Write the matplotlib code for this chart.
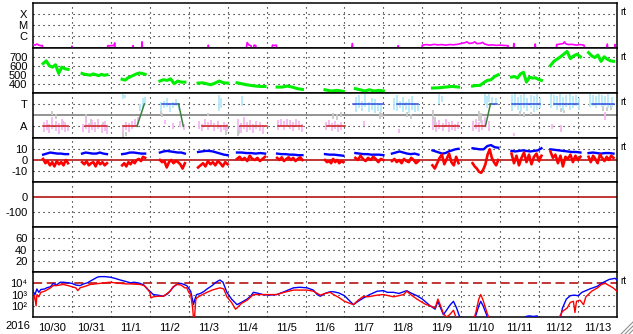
import numpy as np
import matplotlib
matplotlib.use('Agg')
import matplotlib.pyplot as plt
from matplotlib.lines import Line2D

plt.rcParams['font.family'] = ['Liberation Sans', 'DejaVu Sans']

# x axis: days since 2016-10-30 00:00
day_labels = ['10/30', '10/31', '11/1', '11/2', '11/3', '11/4', '11/5', '11/6',
              '11/7', '11/8', '11/9', '11/10', '11/11', '11/12', '11/13']

# data coverage segments (days)
seg_start = [0.26, 1.26, 2.29, 3.26, 4.24, 5.24, 6.27, 7.50, 8.28, 9.22, 10.26, 11.29, 12.29, 13.29, 14.27]
seg_end = [0.90, 1.90, 2.88, 3.90, 5.00, 5.96, 6.92, 7.97, 9.00, 9.90, 10.93, 11.95, 13.06, 14.06, 14.91]

# panel 1: x-ray flux, log10 W/m2
xray_t = [0.0, 0.05, 0.1, 0.15, 0.2, 0.24, 0.26, 0.98, 1.0, 1.02, 1.9, 1.92, 1.97, 2.02, 2.07, 2.1, 2.12,
          2.55, 2.57, 2.59, 2.78, 2.8, 2.82, 4.47, 4.5, 4.53, 5.46, 5.5, 5.55, 5.6, 5.63, 5.68, 5.72, 5.76,
          6.12, 6.15, 6.2, 6.25, 6.28, 8.17, 8.2, 8.23, 9.36, 9.38, 9.4, 9.98,
          10.0, 10.1, 10.2, 10.3, 10.4, 10.5, 10.6, 10.7, 10.8, 10.9, 11.0, 11.1, 11.15, 11.2, 11.3, 11.35,
          11.4, 11.5, 11.55, 11.6, 11.7, 11.8, 11.9, 12.0, 12.1, 12.2, 12.25, 12.33, 12.35, 12.37,
          12.88, 12.9, 12.92, 13.43, 13.45, 13.55, 13.62, 13.65, 13.68, 13.75, 13.85, 13.95, 14.05, 14.15,
          14.2, 14.7, 14.75, 14.78, 14.93, 14.95, 14.97, 15.0]
xray_v = [-6.8, -6.85, -6.75, -6.85, -6.9, -6.88, -7.6, -7.6, -6.95, -7.6, -7.6, -6.9, -6.92, -6.88, -6.9, -6.65, -7.6,
          -7.6, -6.9, -7.6, -7.6, -6.55, -7.6, -7.6, -6.85, -7.6, -7.6, -6.62, -6.85, -6.9, -7.6, -6.85, -6.88, -7.6,
          -7.6, -6.85, -6.88, -6.85, -7.6, -7.6, -6.7, -7.6, -7.6, -6.9, -7.6, -7.6,
          -6.85, -6.8, -6.85, -6.78, -6.83, -6.8, -6.85, -6.8, -6.82, -6.78, -6.7, -6.62, -6.55, -6.7, -6.65, -6.55,
          -6.72, -6.68, -6.6, -6.75, -6.85, -6.83, -6.87, -6.85, -6.88, -6.9, -7.6, -7.6, -6.7, -7.6,
          -7.6, -6.75, -7.6, -7.6, -6.8, -6.75, -6.7, -6.55, -6.72, -6.8, -6.78, -6.85, -6.8, -6.85,
          -7.6, -7.6, -6.75, -7.6, -7.6, -6.8, -7.6, -7.6]

# panel 2: solar wind speed (km/s), one list per segment (None = no data)
speed = [
    [625, 655, 600, 585, 612, 515, 585, 567, 560],
    [515, 505, 500, 495, 510, 500, 490, 505, 495, 500],
    [450, 440, 465, 480, 495, 510, 520, 515, 505],
    [430, 445, 437, 455, 400, 430, 418, 418],
    [407, 411, 400, 389, 407, 430, 411, 407],
    [411, 400, 389, 381, 374, 370, 370],
    [363, 363, 374, 363, 345, 337],
    [333, 319, 326, 315],
    [345, 333, 319, 333, 319, 326, 319],
    None,
    [352, 355, 363, 370, 363],
    [374, 381, 381, 411, 437, 444, 480, 500],
    [474, 481, 463, 510, 527, 418, 474, 463, 466, 448, 437],
    [601, 649, 674, 700, 729, 760, 680, 711, 729, 700],
    [747, 711, 692, 720, 649, 700, 674, 656, 650],
]

# panel 3: IMF sector (T = +1, A = -1), vertical point clouds (t, lo, hi)
away_bars = [
    (0.28, -1.5, -0.6), (0.35, -1.3, -0.4), (0.42, -1.6, -0.8), (0.5, -1.2, -0.2), (0.58, -1.4, -0.5),
    (0.66, -1.7, -0.7), (0.74, -1.3, -0.3), (0.82, -1.5, -0.6), (0.89, -1.4, -0.9),
    (1.28, -1.5, -0.8), (1.36, -1.2, -0.2), (1.44, -1.6, -0.7), (1.52, -1.3, -0.4), (1.6, -1.5, -0.6),
    (1.68, -1.2, -0.3), (1.76, -1.6, -0.8), (1.84, -1.4, -0.5), (1.9, -1.7, -1.0),
    (2.3, -1.6, -0.9), (2.38, -1.3, -0.6), (2.46, -1.5, -0.7), (2.54, -1.2, -0.5), (2.62, -1.1, -0.3),
    (2.7, -0.9, -0.2),
    (3.4, -0.8, -0.4), (3.6, -1.2, -0.7), (3.78, -1.1, -0.5), (3.88, -1.3, -0.8),
    (4.26, -1.2, -0.5), (4.34, -1.4, -0.8), (4.42, -1.1, -0.3), (4.5, -1.3, -0.6), (4.58, -1.0, -0.4),
    (4.66, -1.4, -0.7), (4.74, -1.2, -0.5), (4.82, -1.5, -0.9), (4.9, -1.3, -0.6), (4.98, -1.4, -0.8),
    (5.26, -1.3, -0.3), (5.34, -1.6, -0.7), (5.42, -1.2, -0.2), (5.5, -1.5, -0.6), (5.58, -1.3, -0.4),
    (5.66, -1.6, -0.8), (5.74, -1.2, -0.5), (5.82, -1.4, -0.6), (5.9, -1.7, -0.9),
    (6.28, -1.3, -0.4), (6.36, -1.1, -0.3), (6.44, -1.3, -0.5), (6.52, -1.0, -0.3), (6.6, -1.2, -0.4),
    (6.68, -1.4, -0.6), (6.76, -1.1, -0.3), (6.84, -1.3, -0.5), (6.9, -1.5, -0.8),
    (7.52, -1.3, -0.6), (7.6, -1.1, -0.4), (7.68, -1.4, -0.7), (7.76, -1.2, -0.5), (7.84, -1.5, -0.8),
    (7.92, -1.3, -0.6),
    (8.5, -1.0, -0.5), (9.4, -1.6, -1.2),
    (10.28, -1.3, -0.3), (10.36, -1.5, -0.6), (10.44, -1.2, -0.4), (10.52, -1.4, -0.7), (10.6, -1.1, -0.3),
    (10.68, -1.5, -0.6), (10.76, -1.3, -0.5), (10.84, -1.4, -0.8), (10.92, -1.2, -0.6),
    (11.3, -1.4, -0.5), (11.38, -1.2, -0.3), (11.46, -1.5, -0.6), (11.54, -1.3, -0.4), (11.62, -1.1, -0.2),
    (11.7, -1.4, -0.5),
    (12.35, -1.9, -1.6), (13.32, -1.2, -0.8), (13.55, -1.5, -0.9), (14.7, -0.4, 0.3),
]
toward_bars = [
    (2.3, 1.4, 1.9), (2.36, 1.5, 1.8), (2.75, 0.4, 1.0), (2.82, 0.6, 1.5), (2.87, 0.9, 1.6),
    (3.28, 0.4, 1.2), (3.36, 0.6, 1.3), (3.44, 0.7, 1.5), (3.52, 0.3, 1.1), (3.6, 0.6, 1.2),
    (3.68, 0.8, 1.4), (3.76, 0.5, 0.9),
    (4.78, 0.4, 1.8), (4.82, 0.6, 1.5), (5.37, 0.8, 1.7),
    (8.3, 0.3, 1.6), (8.38, 0.6, 1.8), (8.46, 0.4, 1.3), (8.54, 0.7, 1.9), (8.62, 0.3, 1.2),
    (8.7, 0.5, 1.5), (8.78, 0.2, 1.4), (8.86, 0.4, 1.1), (8.94, 0.3, 0.9),
    (9.26, 0.5, 1.5), (9.34, 0.4, 1.8), (9.42, 0.6, 1.3), (9.5, 0.3, 1.6), (9.58, 0.5, 1.2),
    (9.66, 0.2, 1.4), (9.74, 0.5, 1.7), (9.82, 0.3, 1.1), (9.88, 0.4, 1.0),
    (10.44, 1.0, 1.9), (10.5, 1.2, 1.7),
    (11.6, 1.0, 1.9), (11.66, 0.6, 1.7), (11.72, 1.2, 1.9), (11.8, 0.9, 1.6), (11.88, 1.0, 1.5),
    (12.3, 0.4, 1.8), (12.38, 0.7, 1.9), (12.46, 0.5, 1.6), (12.54, 0.3, 1.8), (12.62, 0.6, 1.9),
    (12.7, 0.4, 1.5), (12.78, 0.6, 1.8), (12.86, 0.3, 1.7), (12.94, 0.5, 1.9), (13.02, 0.6, 1.5),
    (13.3, 0.6, 1.9), (13.38, 0.8, 1.8), (13.46, 0.5, 1.7), (13.54, 0.7, 1.9), (13.62, 0.4, 1.6),
    (13.7, 0.7, 1.8), (13.78, 0.5, 1.9), (13.86, 0.6, 1.7), (13.94, 0.8, 1.8), (14.02, 0.5, 1.5),
    (14.3, 0.7, 1.9), (14.38, 0.8, 1.8), (14.46, 0.6, 1.7), (14.54, 0.9, 1.9), (14.62, 0.7, 1.8),
    (14.7, 0.8, 1.7), (14.78, 0.6, 1.9), (14.86, 0.7, 1.6),
]
gray_bars = [
    (0.5, 0.0, 0.4), (0.6, -0.3, 0.1), (0.78, -0.9, -0.5), (1.35, -0.6, 0.1), (1.5, -0.9, -0.3),
    (1.8, -1.1, -0.6), (2.32, -2.0, -1.4), (2.4, -1.9, -1.5), (3.28, 0.0, 0.35), (3.32, -0.2, 0.2),
    (4.95, -1.8, -1.0), (4.5, -0.1, 0.2), (5.26, -1.9, -1.2), (5.3, -1.7, -1.1),
    (7.7, -0.3, 0.2), (7.8, -0.4, 0.1), (7.9, -0.2, 0.3), (8.9, -0.3, 0.3), (8.96, -0.2, 0.2),
    (9.6, -0.2, 0.3), (9.7, -0.3, 0.1), (10.28, -0.3, 0.5), (10.32, -1.0, -0.2),
    (11.45, -0.5, 0.4), (11.5, -0.7, 0.2), (12.5, 0.0, 0.4), (12.6, -0.2, 0.3), (12.8, 0.0, 0.3),
    (13.55, 0.3, 0.6), (13.65, 0.2, 0.5), (14.65, 0.4, 0.8), (14.75, 0.35, 0.7), (14.85, 0.5, 0.9),
]
# fitted sector: (t0, t1, level)
sector_lines = [
    (0.26, 0.90, -1), (1.34, 1.90, -1), (2.31, 2.67, -1), (3.31, 3.74, 1), (4.34, 4.98, -1),
    (5.32, 6.00, -1), (6.30, 6.90, -1), (7.55, 8.02, -1), (8.23, 9.00, 1), (9.35, 9.90, 1),
    (10.33, 10.93, -1), (11.36, 11.62, -1), (11.75, 11.93, 1), (12.31, 13.03, 1),
    (13.37, 14.01, 1), (14.36, 14.92, 1),
]
sector_turns = [(2.67, -1, 2.86, 1), (3.74, 1, 3.86, -1), (11.62, -1, 11.75, 1)]

# panel 4: IMF Bt (blue) and Bz (red), nT, per segment
bt = [
    [5, 6, 7, 6.5, 6, 6, 5.5, 5.5],
    [6, 7, 6.5, 6, 6, 7, 6, 5.5],
    [5.5, 6, 7, 7, 6.5, 6, 6],
    [7, 8, 8.5, 8, 7.5, 7, 7, 6],
    [7.5, 8, 8.5, 8.5, 8, 7, 6, 5, 4.5],
    [7, 7, 6.5, 6.5, 6, 6.5, 6],
    [6, 5.5, 5.5, 5, 5, 4.5, 4.5],
    [5.5, 5, 5, 4.5, 4],
    [6.5, 6, 5.5, 5.5, 5, 5, 5, 4.5],
    [6, 7, 8, 7, 6, 5.5, 6, 5],
    [9, 8, 7, 6, 6.5, 8, 9, 10, 10.5],
    [11, 10.5, 10, 10, 13, 14, 12, 11.5],
    [8.5, 8, 8.5, 9, 8.5, 8, 8.5, 9, 11],
    [10, 9.5, 9, 8.5, 8, 7.5, 7.5, 7],
    [6.5, 7, 6.5, 6, 6.5, 6.5, 6],
]
bz = [
    [1, -3, -1, -5, -2, -6, -1, -4, -2, -5, 0, -3],
    [-2, -4, -1, -5, -3, -2, -6, -1, -4, -2, -5, -3],
    [-5, -3, -6, -2, -4, -1, -3, 0, 1, -1, 3, 2],
    [0, -2, -1, -7, -2, 0, -3, -1, -2, -4, -8, -3],
    [-7, -5, -3, -6, -1, -4, -2, -5, -1, -3, -6, -2, -4],
    [1, 3, 0, 2, -1, 4, 1, 0, 2, -1, 1, 3],
    [2, 0, 2.5, -1, 1, 2.5, 0, 2, -1, 1, 2.5, 0],
    [0, -2, -1, -3, 1, -2, 0, -3, -1, -2],
    [2, 0, 4, 1, -1, 2, 0, 3, 1, -2, 1, 0],
    [-1, 1, -2, 0, -3, 1, -1, -2, 2, 0, -3, -1],
    [-5, -8, -3, 2, 5, -4, 1, 6, -2, -5, 3, -3],
    [-3, -6, -8, -11, -12, -9, -4, 5, 10, 2, -2, -5, 0],
    [6, -3, 4, -5, 2, 7, -2, 5, -4, 3, 6, -1, 4],
    [8, 2, 5, -3, 4, -6, 3, 1, 5, -2, 4, 0, 3],
    [3, -2, 4, 1, -3, 5, 2, -1, 3, 0, 4, 2],
]

# panel 7: electron flux, log10
eb_t = [0.0, 0.05, 0.1, 0.15, 0.2, 0.3, 0.35, 0.45, 0.52, 0.6, 0.7, 0.78, 0.9, 1.0, 1.1, 1.21, 1.3, 1.4,
        1.47, 1.55, 1.65, 1.72, 1.85, 1.98, 2.1, 2.24, 2.35, 2.5, 2.6, 2.75, 2.85, 2.92, 3.0, 3.09, 3.2,
        3.35, 3.45, 3.52, 3.6, 3.69, 3.8, 3.95, 4.05, 4.1, 4.12, 4.16, 4.2, 4.3, 4.4, 4.47, 4.6, 4.7, 4.8,
        4.88, 4.98, 5.1, 5.24, 5.35, 5.5, 5.6, 5.66, 5.8, 5.9, 6.05, 6.26, 6.45, 6.69, 6.85, 7.04, 7.2,
        7.3, 7.38, 7.5, 7.63, 7.72, 7.85, 8.0, 8.1, 8.23, 8.35, 8.49, 8.65, 8.84, 9.0, 9.1, 9.26, 9.4,
        9.52, 9.6, 9.7, 9.86, 10.0, 10.1, 10.2, 10.33, 10.4, 10.47, 10.54, 10.62, 10.72, 10.8, 10.88,
        10.98, 11.1, 11.3, 11.38, 11.45, 11.5, 11.56, 11.65, 11.72, 12.6, 12.66, 12.75, 12.85, 12.95,
        13.0, 13.5, 13.55, 13.6, 13.7, 13.8, 13.9, 14.0, 14.1, 14.3, 14.5, 14.6, 14.8, 14.95, 15.0]
eb_v = [3.3, 3.0, 3.5, 3.2, 3.45, 3.5, 3.6, 3.7, 4.0, 3.85, 4.1, 4.1, 4.05, 4.0, 3.85, 3.8, 3.95, 4.05,
        4.2, 4.35, 4.55, 4.6, 4.6, 4.55, 4.45, 4.3, 4.2, 4.05, 4.1, 4.0, 3.85, 3.55, 3.3, 3.0, 2.95,
        2.85, 3.05, 3.3, 3.65, 3.9, 4.0, 3.8, 3.3, 2.5, 2.1, 2.6, 3.0, 3.1, 3.3, 3.5, 3.8, 4.1, 4.3,
        4.1, 3.2, 2.6, 2.1, 2.3, 2.6, 2.9, 3.2, 3.1, 3.0, 2.95, 3.0, 3.25, 3.6, 3.65, 3.6, 3.4,
        3.0, 2.85, 3.1, 3.25, 3.25, 3.15, 2.9, 2.55, 2.1, 2.4, 2.7, 3.0, 3.3, 3.35, 3.2, 3.2, 3.1,
        3.25, 3.35, 3.15, 2.9, 2.6, 2.3, 2.0, 1.7, 2.4, 1.8, 1.2, 1.6, 2.1, 2.4, 1.8,
        0.8, 0.5, 0.5, 1.2, 2.0, 2.4, 2.0, 1.2, 0.5, 0.5, 1.05, 1.1, 1.05, 1.1,
        0.5, 0.5, 1.0, 1.8, 2.6, 2.9, 2.95, 2.9, 3.2, 3.5, 3.75, 4.0, 4.35, 4.45, 4.3]
er_t = [0.0, 0.04, 0.08, 0.1, 0.15, 0.2, 0.3, 0.35, 0.45, 0.52, 0.6, 0.78, 0.9, 1.0, 1.1, 1.15, 1.21, 1.35,
        1.47, 1.6, 1.72, 1.85, 1.98, 2.1, 2.24, 2.4, 2.5, 2.75, 2.85, 2.92, 3.0, 3.03, 3.09, 3.2, 3.35,
        3.52, 3.6, 3.69, 3.8, 3.9, 3.95, 4.0, 4.05, 4.1, 4.12, 4.15, 4.18, 4.2, 4.35, 4.47, 4.6, 4.8,
        4.9, 4.98, 5.1, 5.2, 5.24, 5.35, 5.5, 5.66, 5.9, 6.26, 6.45, 6.69, 7.04, 7.2, 7.38, 7.5, 7.63,
        7.72, 7.85, 8.0, 8.23, 8.35, 8.49, 8.6, 8.84, 9.0, 9.26, 9.52, 9.6, 9.7, 9.86, 10.0, 10.1, 10.2,
        10.33, 10.4, 10.47, 10.54, 10.62, 10.7, 10.8, 10.88, 11.0, 11.3, 11.38, 11.45, 11.5, 11.56,
        11.65, 11.75, 13.5, 13.52, 13.6, 13.72, 13.8, 13.88, 13.92, 13.96, 14.05, 14.14, 14.2, 14.35,
        14.5, 14.6, 14.7, 14.8, 14.9, 15.0]
er_v = [2.4, 2.9, 2.0, 3.0, 2.8, 3.2, 3.3, 3.4, 3.6, 3.8, 3.8, 3.9, 3.8, 3.7, 3.6, 3.35, 3.6, 3.75,
        3.9, 3.95, 4.0, 4.05, 4.1, 4.05, 4.0, 3.95, 3.95, 3.9, 3.8, 3.6, 3.2, 2.7, 2.8, 2.85, 2.85,
        3.3, 3.7, 3.9, 3.85, 3.6, 3.6, 3.2, 3.0, 1.8, 1.0, 1.0, 2.5, 2.7, 3.0, 3.2, 3.4, 3.6,
        3.5, 2.8, 2.3, 1.7, 1.8, 2.2, 2.5, 3.0, 3.0, 3.0, 3.2, 3.4, 3.4, 3.3, 2.95, 3.1, 3.2,
        3.0, 2.75, 2.4, 2.1, 2.5, 2.85, 2.8, 2.95, 3.0, 2.8, 3.0, 3.3, 3.0, 2.6, 2.3, 2.1, 2.0,
        1.8, 2.6, 2.0, 1.3, 1.0, 1.2, 1.6, 0.8, 0.5, 0.5, 1.5, 2.6, 3.0, 2.5,
        1.5, 0.5, 0.5, 1.0, 1.5, 1.8, 2.3, 2.4, 1.4, 2.4, 2.5, 2.1, 2.8, 3.3,
        3.6, 3.9, 4.0, 3.8, 3.6, 3.3]

# ---------------------------------------------------------------------------
W, H = 633, 334
left, right, top, bottom = 33, 617, 3, 317
ph = (bottom - top) / 7.0
DOT = (0, (1, 3.5))
darkred = '#b00000'

fig = plt.figure(figsize=(W / 100, H / 100), dpi=100)
axes = []
for i in range(7):
    y0 = top + i * ph
    ax = fig.add_axes([left / W, 1 - (y0 + ph) / H, (right - left) / W, ph / H])
    ax.set_xlim(0, 15)
    for d in range(1, 15):
        ax.axvline(d, color='black', lw=0.8, ls=DOT, zorder=1)
    ax.set_xticks([])
    ax.tick_params(axis='y', length=0, pad=4, labelsize=8)
    for s in ax.spines.values():
        s.set_linewidth(1.1)
    axes.append(ax)


def hgrid(ax, levels):
    for v in levels:
        ax.axhline(v, color='black', lw=0.8, ls=DOT, zorder=1)


def rt(ax):
    ax.text(1.006, 1 - 9 / ph, 'rt', transform=ax.transAxes, ha='left', va='center', fontsize=7)


# 1 x-ray
ax = axes[0]
ax.set_yscale('log')
ax.set_ylim(10 ** -7.1, 10 ** -3.0)
ax.minorticks_off()
ax.set_yticks([1e-4, 1e-5, 1e-6], ['X', 'M', 'C'])
hgrid(ax, [1e-4, 1e-5, 1e-6])
ax.plot(xray_t, 10 ** np.array(xray_v), color='#ff00ff', lw=1.2, zorder=3)
rt(ax)

# 2 speed
ax = axes[1]
ax.set_ylim(300, 800)
ax.set_yticks([400, 500, 600, 700], ['400', '500', '600', '700'])
hgrid(ax, [400, 500, 600, 700])
for s, e, v in zip(seg_start, seg_end, speed):
    if v is None:
        continue
    ax.plot(np.linspace(s, e, len(v)), v, color='#00ee00', lw=2.2, zorder=3)
rt(ax)

# 3 sector
ax = axes[2]
ax.set_ylim(-2, 2)
ax.set_yticks([1, -1], ['T', 'A'])
hgrid(ax, [1, -1])
ax.axhline(0, color='#808080', lw=1.2, zorder=1)
for bars, col in [(gray_bars, '#c8c8c8'), (away_bars, '#f4b8f0'), (toward_bars, '#b4e8f8')]:
    t = [b[0] for b in bars]
    ax.vlines(t, [b[1] for b in bars], [b[2] for b in bars], color=col, lw=1.3, zorder=2)
for t0, t1, lev in sector_lines:
    ax.plot([t0, t1], [lev, lev], color='#d02020' if lev < 0 else '#3050e0', lw=1.1, zorder=3)
for t0, v0, t1, v1 in sector_turns:
    ax.plot([t0, t1], [v0, v1], color='#3c8040', lw=1.1, zorder=3)
rt(ax)

# 4 IMF
ax = axes[3]
ax.set_ylim(-21, 21)
ax.set_yticks([10, 0, -10], ['10', '0', '-10'])
hgrid(ax, [10, -10])
ax.axhline(0, color=darkred, lw=1.1, zorder=1)
for s, e, v in zip(seg_start, seg_end, bt):
    ax.plot(np.linspace(s, e, len(v)), v, color='#0000ff', lw=1.7, zorder=3)
for s, e, v in zip(seg_start, seg_end, bz):
    ax.plot(np.linspace(s, e, len(v)), v, color='#ff0000', lw=1.9, zorder=4)
rt(ax)

# 5 empty (0 / -100)
ax = axes[4]
ax.set_ylim(-200, 100)
ax.set_yticks([0, -100], ['0', '-100'])
hgrid(ax, [-100])
ax.axhline(0, color=darkred, lw=1.1, zorder=1)

# 6 empty (20..60)
ax = axes[5]
ax.set_ylim(0, 80)
ax.set_yticks([20, 40, 60], ['20', '40', '60'])
hgrid(ax, [20, 40, 60])

# 7 electrons
ax = axes[6]
ax.set_yscale('log')
ax.set_ylim(10, 1e5)
ax.minorticks_off()
ax.set_yticks([1e4, 1e3, 1e2], ['10\u2074', '10\u00b3', '10\u00b2'])
hgrid(ax, [1e3, 1e2])
ax.axhline(1e4, color=darkred, lw=1.1, dashes=(6, 3), zorder=1)
ax.plot(eb_t, 10 ** np.array(eb_v), color='#0000ff', lw=1.0, zorder=3)
ax.plot(er_t, 10 ** np.array(er_v), color='#ff0000', lw=1.0, zorder=4)
ax.set_xticks(np.arange(15) + 0.5, day_labels)
ax.tick_params(axis='x', length=0, pad=4, labelsize=8)
rt(ax)

fig.text(5 / W, 1 - 326 / H, '2016', ha='left', va='center', fontsize=8)

# window resize grip in the corner
for k in (4, 8, 12):
    fig.add_artist(Line2D([(W - k) / W, 1.0], [0.0, k / H], color='#909090', lw=0.8))

fig.savefig('out.png', dpi=100)
